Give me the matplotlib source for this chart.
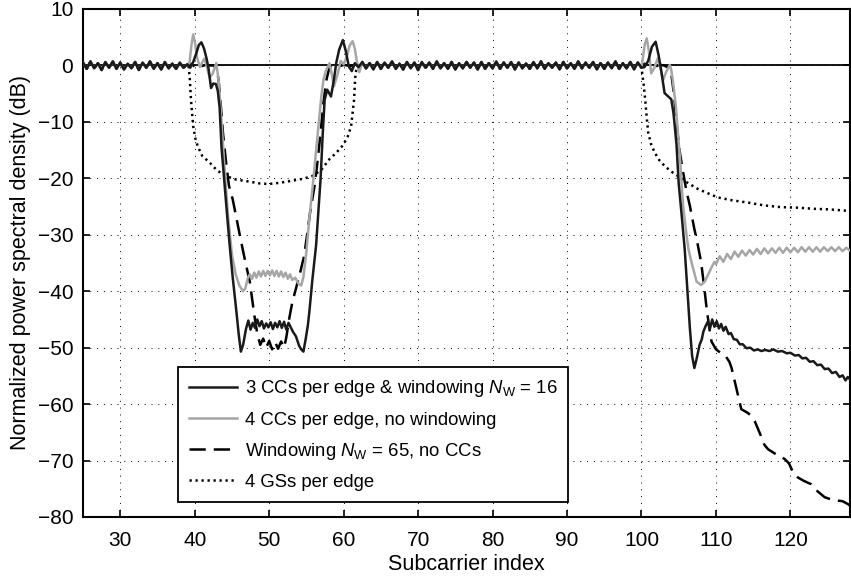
import numpy as np
import matplotlib
matplotlib.use("Agg")
import matplotlib.pyplot as plt

plt.rcParams['font.family'] = ['Liberation Sans', 'DejaVu Sans']
plt.rcParams['mathtext.fontset'] = 'custom'
plt.rcParams['mathtext.rm'] = 'Liberation Sans'
plt.rcParams['mathtext.it'] = 'Liberation Sans:italic'

# ---------------- data ----------------
# shared passband ripple
pass_left_x = np.arange(25, 39.01, 0.5)
pass_left_y = [0.5, -0.6, 0.7, -0.5, 0.4, -0.8, 0.6, -0.4, 0.7, -0.6,
               0.5, -0.7, 0.3, -0.5, 0.6, -0.8, 0.5, -0.4, 0.7, -0.6,
               0.4, -0.7, 0.6, -0.5, 0.3, -0.6, 0.5, -0.4, 0.2]
pass_mid_x = np.arange(62.5, 100.01, 0.5)
pass_mid_y = [0.6, -0.5, 0.4, -0.7, 0.6, -0.6, 0.5, -0.4, 0.7, -0.6,
              0.3, -0.7, 0.6, -0.5, 0.5, -0.8, 0.6, -0.4, 0.5, -0.6,
              0.7, -0.5, 0.4, -0.6, 0.6, -0.7, 0.4, -0.5, 0.6, -0.4,
              0.5, -0.7, 0.6, -0.6, 0.4, -0.5, 0.7, -0.6, 0.5, -0.4,
              0.6, -0.7, 0.5, -0.5, 0.3, -0.6, 0.6, -0.5, 0.7, -0.6,
              0.4, -0.4, 0.5, -0.7, 0.6, -0.5, 0.4, -0.6, 0.7, -0.5,
              0.5, -0.4, 0.6, -0.7, 0.4, -0.6, 0.5, -0.5, 0.7, -0.6,
              0.4, -0.5, 0.6, -0.7, 0.5, -0.4]

# 3 CCs per edge & windowing N_W = 16
cc3_notch_x = [39.4, 39.8, 40.2, 40.55, 40.9, 41.25, 41.6, 41.85, 42.2, 42.5,
               42.85, 43.1, 43.35, 43.6, 44.0, 44.35, 44.7, 45.1, 45.6, 45.9,
               46.2, 46.5, 46.9, 47.2, 47.5, 47.8, 48.1, 48.4, 48.7, 49.0,
               49.3, 49.6, 49.9, 50.2, 50.5, 50.8, 51.1, 51.4, 51.7, 52.0,
               52.3, 52.6, 52.9, 53.2, 53.6, 54.0, 54.3, 54.6, 54.9, 55.2,
               55.4, 55.8, 56.3, 56.6, 56.9, 57.2, 57.45, 57.8, 58.3, 58.7,
               59.0, 59.4, 59.9, 60.3, 60.7, 61.1, 61.5, 62.0]
cc3_notch_y = [-0.4, 0.6, 2.1, 3.6, 4.1, 3.0, 1.2, -0.5, -4.0, -3.2,
               -3.3, -4.5, -7.5, -14.5, -21.0, -26.5, -31.9, -37.5, -43.6, -47.5,
               -50.7, -49.5, -46.6, -45.2, -46.8, -45.6, -46.5, -45.0, -46.2, -45.3,
               -46.6, -45.7, -46.4, -45.5, -46.7, -45.6, -46.4, -45.3, -46.5, -45.4,
               -46.8, -45.6, -46.4, -47.2, -48.0, -49.6, -50.3, -50.7, -48.5, -46.0,
               -43.6, -38.0, -31.9, -26.0, -20.2, -12.0, -6.1, -4.3, -5.5, -2.5,
               0.4, 2.8, 4.5, 2.5, -0.2, -1.0, 0.4, -0.3]
cc3_right_x = [100.4, 100.9, 101.4, 101.9, 102.3, 102.6, 103.1, 103.6, 104.0, 104.3,
               104.7, 105.0, 105.4, 105.8, 106.1, 106.5, 106.8, 107.1, 107.4, 107.8,
               108.1, 108.3, 108.6, 108.9, 109.2, 109.5, 109.8, 110.1, 110.4, 110.7,
               111.0, 111.3, 111.7, 112.0, 112.4, 112.8, 113.2, 113.6, 114.1, 114.6,
               115.1, 115.6, 116.1, 116.6, 117.2, 117.7, 118.3, 118.9, 119.5, 120.0,
               120.6, 121.1, 121.6, 122.1, 122.6, 123.1, 123.6, 124.1, 124.6, 125.1,
               125.6, 126.1, 126.6, 127.0, 127.4, 127.7, 128.0]
cc3_right_y = [-0.3, 0.8, 3.3, 4.2, 1.8, -0.5, -4.9, -5.5, -6.0, -8.5,
               -14.0, -21.0, -26.6, -32.5, -38.5, -46.6, -51.5, -53.6, -52.0, -49.5,
               -48.5, -47.2, -46.2, -45.4, -46.6, -45.0, -46.3, -45.3, -46.6, -45.8,
               -47.0, -46.3, -47.6, -47.4, -48.5, -48.6, -49.4, -49.4, -50.1, -50.0,
               -50.5, -50.3, -50.6, -50.4, -50.6, -50.3, -50.7, -50.6, -51.0, -50.9,
               -51.4, -51.3, -51.9, -51.8, -52.5, -52.4, -53.1, -53.0, -53.8, -53.7,
               -54.5, -54.3, -55.2, -54.9, -55.8, -55.2, -55.6]

# 4 CCs per edge, no windowing
cc4_notch_x = [39.3, 39.55, 39.8, 40.05, 40.3, 40.7, 41.0, 41.3, 41.6, 42.0,
               42.4, 42.9, 43.2, 43.5, 43.8, 44.1, 44.5, 45.0, 45.5, 46.0,
               46.5, 46.8, 47.1, 47.4, 47.7, 48.0, 48.3, 48.6, 48.9, 49.2,
               49.5, 49.8, 50.1, 50.4, 50.7, 51.0, 51.3, 51.6, 51.9, 52.2,
               52.5, 52.8, 53.1, 53.5, 53.9, 54.3, 54.6, 55.0, 55.4, 55.8,
               56.2, 56.6, 57.0, 57.3, 57.6, 58.1, 58.4, 58.7, 59.2, 59.6,
               60.0, 60.4, 60.8, 61.2, 61.5, 61.8, 62.1]
cc4_notch_y = [0.4, 3.5, 5.5, 4.0, 1.5, -0.3, 0.5, 1.2, 0.0, -2.2,
               -1.5, 0.4, -2.5, -8.0, -14.0, -20.0, -27.0, -33.5, -37.0, -39.0,
               -40.0, -39.5, -37.8, -37.0, -37.8, -36.7, -37.6, -36.5, -37.4, -36.4,
               -37.3, -36.4, -37.2, -36.3, -37.3, -36.4, -37.4, -36.5, -37.5, -36.7,
               -37.8, -37.0, -38.0, -37.6, -38.6, -39.0, -37.5, -33.0, -27.0, -22.0,
               -16.5, -11.0, -5.5, -2.5, -1.0, 0.4, -1.5, -3.7, -1.5, 0.8,
               0.2, 1.5, 3.5, 4.3, 3.0, 0.5, -1.2]
cc4_right_x = [100.2, 100.45, 100.7, 101.0, 101.3, 101.7, 102.2, 102.6, 102.9, 103.3,
               103.8, 104.0, 104.2, 104.6, 104.9, 105.2, 105.4, 105.6, 106.0, 106.3,
               106.7, 107.4, 108.0, 108.5, 108.9, 109.4, 109.8,
               110.0, 110.5, 111.0, 111.5, 112.0, 112.5, 113.0, 113.5, 114.0, 114.5,
               115.0, 115.5, 116.0, 116.5, 117.0, 117.5, 118.0, 118.5, 119.0, 119.5,
               120.0, 120.5, 121.0, 121.5, 122.0, 122.5, 123.0, 123.5, 124.0, 124.5,
               125.0, 125.5, 126.0, 126.5, 127.0, 127.5, 128.0]
cc4_right_y = [1.5, 3.8, 4.8, 2.5, -1.4, -0.5, 1.3, -0.8, -2.6, -1.2,
               0.1, -0.8, -2.6, -7.0, -11.9, -17.0, -21.3, -25.0, -29.5, -32.5,
               -34.8, -38.3, -38.9, -38.3, -37.2, -35.8, -34.8,
               -35.2, -33.8, -34.8, -33.4, -34.3, -33.0, -33.9, -32.8, -33.7, -32.7,
               -33.5, -32.5, -33.4, -32.4, -33.3, -32.4, -33.2, -32.3, -33.2, -32.3,
               -33.1, -32.3, -33.1, -32.2, -33.0, -32.2, -33.0, -32.2, -33.0, -32.2,
               -32.9, -32.2, -32.9, -32.2, -32.9, -32.3, -32.8]

# Windowing N_W = 65, no CCs
win_notch_x = [39.5, 40.0, 40.5, 41.0, 41.5, 42.0, 42.5, 42.9, 43.2, 43.5,
               43.8, 44.2, 44.6, 45.1, 45.6, 46.2, 46.8, 47.4, 48.0, 48.4,
               48.8, 49.2, 49.6, 50.0, 50.4, 50.8, 51.2, 51.6, 52.0, 52.3,
               52.7, 53.1, 53.6, 54.2, 54.7, 55.2, 55.5, 55.8, 56.1, 56.5,
               56.9, 57.3, 57.7, 58.1, 58.5, 59.0, 59.5, 60.0, 60.5, 61.0,
               61.5, 62.0]
win_notch_y = [0.3, -0.2, 0.2, -0.1, 0.1, 0.0, 0.0, -0.4, -2.5, -7.0,
               -12.0, -17.0, -21.3, -23.7, -27.0, -31.0, -34.8, -38.3, -44.2, -47.5,
               -49.5, -48.4, -50.0, -48.8, -50.3, -49.0, -50.2, -48.9, -50.0, -48.2,
               -44.8, -42.0, -39.5, -36.5, -33.7, -29.0, -26.0, -23.7, -21.3, -17.0,
               -12.0, -6.5, -2.5, -0.3, 0.0, 0.1, -0.1, 0.1, 0.0, -0.1,
               0.1, 0.0]
win_right_x = [100.4, 101.0, 101.5, 102.0, 102.5, 103.0, 103.5, 104.0, 104.4, 104.7,
               105.1, 105.6, 106.0, 106.5, 107.1, 107.4, 108.0, 108.4, 108.7, 109.1,
               109.4, 110.0, 110.7, 111.3, 111.8, 112.1, 112.8, 113.4, 114.2, 114.7,
               115.2, 116.0, 116.5, 117.0, 117.6, 118.2, 119.2, 119.8, 120.4, 121.0,
               121.8, 122.8, 123.6, 124.6, 125.5, 126.4, 127.0, 127.7, 128.0]
win_right_y = [0.3, -0.2, 0.2, -0.1, 0.1, 0.0, -0.3, -1.5, -5.5, -10.2,
               -15.0, -19.0, -22.0, -24.9, -29.0, -30.7, -34.8, -39.0, -42.5, -46.5,
               -48.9, -50.3, -51.0, -51.5, -52.5, -53.6, -57.5, -60.9, -61.5, -62.0,
               -63.0, -65.5, -67.2, -68.0, -68.5, -69.0, -69.7, -70.5, -72.2, -73.0,
               -73.6, -74.2, -75.4, -76.5, -76.9, -77.1, -77.2, -77.7, -78.0]

# 4 GSs per edge
gs_notch_x = [39.2, 39.35, 39.5, 39.8, 40.1, 40.4, 41.0, 42.0, 43.0, 44.2,
              45.5, 47.4, 48.7, 50.0, 51.4, 52.7, 54.5, 55.8, 57.0, 58.1,
              59.0, 59.8, 60.5, 61.0, 61.2, 61.4, 61.5, 61.6, 61.8, 62.1]
gs_notch_y = [-0.3, -2.5, -6.1, -10.8, -13.0, -14.3, -16.0, -17.2, -18.6, -19.6,
              -20.2, -20.6, -20.9, -21.0, -20.8, -20.5, -20.1, -19.6, -18.5, -16.6,
              -15.5, -14.3, -12.8, -10.8, -8.5, -6.1, -3.5, -1.4, -0.3, 0.2]
gs_right_x = [100.3, 100.5, 100.7, 100.9, 101.3, 101.8, 102.4, 103.1, 104.0, 104.9,
              106.2, 107.6, 109.0, 110.3, 112.2, 114.3, 116.5, 118.7, 121.0, 123.2,
              125.2, 127.2, 128.0]
gs_right_y = [-3.5, -6.1, -9.2, -11.9, -14.0, -15.5, -16.8, -17.8, -18.8, -19.6,
              -20.8, -21.9, -22.7, -23.4, -23.9, -24.3, -24.8, -25.1, -25.2, -25.4,
              -25.5, -25.7, -25.8]

labels = [r"3 CCs per edge & windowing $N_{\mathrm{W}}$ = 16",
          "4 CCs per edge, no windowing",
          r"Windowing $N_{\mathrm{W}}$ = 65, no CCs",
          "4 GSs per edge"]
x_ticks = [30, 40, 50, 60, 70, 80, 90, 100, 110, 120]
y_ticks = [-80, -70, -60, -50, -40, -30, -20, -10, 0, 10]


def build(nx, ny, rx, ry):
    x = np.concatenate([pass_left_x, nx, pass_mid_x, rx])
    y = np.concatenate([pass_left_y, ny, pass_mid_y, ry])
    return x, y


fig = plt.figure(figsize=(8.51, 5.79), dpi=100)
ax = fig.add_axes([83 / 851, 1 - 517 / 579, 767 / 851, 508 / 579])

lw = 1.8
x4, y4 = build(gs_notch_x, gs_notch_y, gs_right_x, gs_right_y)
l4, = ax.plot(x4, y4, color='black', lw=lw, linestyle=(0, (0.9, 1.5)), zorder=3)
x3, y3 = build(win_notch_x, win_notch_y, win_right_x, win_right_y)
l3, = ax.plot(x3, y3, color='black', lw=lw, linestyle=(0, (6.5, 3.2)), zorder=3.5)
x2, y2 = build(cc4_notch_x, cc4_notch_y, cc4_right_x, cc4_right_y)
l2, = ax.plot(x2, y2, color='#a6a6a6', lw=lw, zorder=4)
x1, y1 = build(cc3_notch_x, cc3_notch_y, cc3_right_x, cc3_right_y)
l1, = ax.plot(x1, y1, color='#1a1a1a', lw=lw, zorder=5)

ax.axhline(0, color='black', lw=1.3, zorder=2)

ax.set_xlim(25, 128)
ax.set_ylim(-80, 10)
ax.set_xticks(x_ticks)
ax.set_yticks(y_ticks)
ax.grid(True, color='black', linestyle=(0, (1, 6)), linewidth=0.7)
ax.tick_params(direction='in', top=True, right=True, length=5, width=1.2,
               labelsize=15)
ax.tick_params(axis='x', pad=10)
ax.tick_params(axis='y', pad=7)
for s in ax.spines.values():
    s.set_linewidth(1.5)

ax.set_xlabel('Subcarrier index', fontsize=15.5, labelpad=3)
ax.set_ylabel('Normalized power spectral density (dB)', fontsize=15.5, labelpad=5)

leg = ax.legend([l1, l2, l3, l4], labels, loc='lower left',
                bbox_to_anchor=(0.124, 0.0295), borderaxespad=0,
                frameon=True, fancybox=False, edgecolor='black', framealpha=1,
                fontsize=13.3, handlelength=2.6, handletextpad=0.4,
                labelspacing=0.66, borderpad=0.6)
leg.get_frame().set_linewidth(1.3)

fig.savefig('out.png', dpi=100)
